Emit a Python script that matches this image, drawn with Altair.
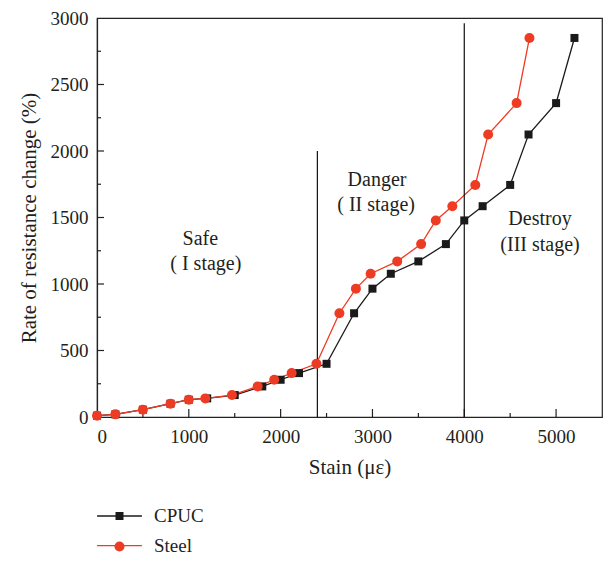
import altair as alt
import pandas as pd

# ---- data ----
series_names = ["CPUC", "Steel"]
series_colors = ["#1a1a1a", "#ee3b24"]
marker_shapes = ["square", "circle"]
marker_sizes = [64, 100]

strain_cpuc = [0, 200, 500, 800, 1000, 1200, 1500, 1800, 2000, 2200, 2500,
               2800, 3000, 3200, 3500, 3800, 4000, 4200, 4500, 4700, 5000, 5200]
rate_cpuc = [10, 20, 55, 100, 130, 140, 165, 230, 280, 330, 400,
             780, 965, 1077, 1170, 1300, 1478, 1585, 1745, 2124, 2360, 2850]

strain_steel = [0, 200, 500, 800, 1000, 1180, 1470, 1750, 1930, 2120, 2390,
                2640, 2820, 2980, 3270, 3530, 3690, 3870, 4120, 4260, 4570, 4710]
rate_steel = [10, 20, 55, 100, 130, 140, 165, 230, 280, 330, 400,
              780, 965, 1077, 1170, 1300, 1478, 1585, 1745, 2124, 2360, 2850]

rule_x = [2400, 4000]
rule_bottom = [0, 0]
rule_top = [2000, 2960]

note_text = ["Safe", "( I stage)", "Danger", "( II stage)", "Destroy", "(III stage)"]
note_x = [1125, 1185, 3050, 3040, 4825, 4825]
note_y = [1292, 1106, 1738, 1552, 1441, 1248]

x_label_values = [0, 1000, 2000, 3000, 4000, 5000]
x_major_ticks = [1000, 2000, 3000, 4000, 5000]
x_minor_ticks = [500, 1500, 2500, 3500, 4500]
y_label_values = [0, 500, 1000, 1500, 2000, 2500, 3000]
y_major_ticks = [500, 1000, 1500, 2000, 2500]
y_minor_ticks = [250, 750, 1250, 1750, 2250, 2750]

rows = []
for name, xs, ys in [("CPUC", strain_cpuc, rate_cpuc), ("Steel", strain_steel, rate_steel)]:
    for xv, yv in zip(xs, ys):
        rows.append({"strain": xv, "rate": yv, "series": name, "marker": name})
df = pd.DataFrame(rows)
rule_df = pd.DataFrame({"x": rule_x, "y0": rule_bottom, "y1": rule_top})
note_df = pd.DataFrame({"t": note_text, "x": note_x, "y": note_y})

W, H = 505, 399
FONT = "Liberation Serif"
TXT = "#231f20"
TICK = "#222222"

x_scale = alt.Scale(domain=[0, 5500], nice=False)
y_scale = alt.Scale(domain=[0, 3000], nice=False)


def x_ticks(values, length):
    return alt.Chart(pd.DataFrame({"v": values})).mark_rule(
        color=TICK, strokeWidth=1.2).encode(
        x=alt.X("v:Q", scale=x_scale, axis=None),
        y=alt.value(H), y2=alt.value(H - length))


def y_ticks(values, length):
    return alt.Chart(pd.DataFrame({"v": values})).mark_rule(
        color=TICK, strokeWidth=1.2).encode(
        y=alt.Y("v:Q", scale=y_scale, axis=None),
        x=alt.value(0), x2=alt.value(length))


rules = alt.Chart(rule_df).mark_rule(color="#111111", strokeWidth=1.2).encode(
    x=alt.X("x:Q", scale=x_scale, axis=None),
    y=alt.Y("y0:Q", scale=y_scale, axis=None),
    y2="y1:Q",
)

lines = alt.Chart(df).mark_line(strokeWidth=1.3).encode(
    x=alt.X("strain:Q", scale=x_scale,
            axis=alt.Axis(orient="bottom", values=x_label_values, ticks=False,
                          format="d", labelPadding=10, title="Stain (με)",
                          titlePadding=10, grid=False)),
    y=alt.Y("rate:Q", scale=y_scale,
            axis=alt.Axis(orient="left", values=y_label_values, ticks=False,
                          format="d", labelPadding=9,
                          title="Rate of resistance change (%)",
                          titlePadding=11, grid=False)),
    color=alt.Color("series:N", scale=alt.Scale(range=series_colors),
                    legend=alt.Legend(orient="none", legendX=7.5, legendY=483,
                                      title=None, padding=0, rowPadding=4.6,
                                      symbolType="M-1.6,0H1.6", symbolSize=784,
                                      symbolStrokeWidth=1.3, symbolOffset=0,
                                      labelFontSize=19, labelFont=FONT,
                                      labelColor=TXT, labelOffset=19.5,
                                      direction="vertical")),
)

marker_legend = alt.Legend(orient="none", legendX=16.5, legendY=492, title=None,
                           padding=0, rowPadding=15.5, labelFontSize=12,
                           labelExpr="''", labelOpacity=0, symbolOffset=0,
                           direction="vertical")

points = alt.Chart(df).mark_point(filled=True, opacity=1, strokeWidth=0).encode(
    x=alt.X("strain:Q", scale=x_scale, axis=None),
    y=alt.Y("rate:Q", scale=y_scale, axis=None),
    fill=alt.Fill("marker:N", scale=alt.Scale(range=series_colors), legend=marker_legend),
    shape=alt.Shape("marker:N", scale=alt.Scale(range=marker_shapes), legend=marker_legend),
    size=alt.Size("marker:N", scale=alt.Scale(range=marker_sizes), legend=marker_legend),
)

notes = alt.Chart(note_df).mark_text(font=FONT, fontSize=20, color=TXT,
                                     baseline="alphabetic", align="center").encode(
    x=alt.X("x:Q", scale=x_scale, axis=None),
    y=alt.Y("y:Q", scale=y_scale, axis=None),
    text="t:N",
)

chart = alt.layer(
    lines,
    x_ticks(x_major_ticks, 8), x_ticks(x_minor_ticks, 4),
    y_ticks(y_major_ticks, 7), y_ticks(y_minor_ticks, 4),
    rules, points, notes,
).resolve_axis(
    x="independent", y="independent"
).properties(
    width=W, height=H,
    padding={"left": 89, "top": 10, "right": 1, "bottom": 138},
    autosize=alt.AutoSizeParams(type="none"),
).configure_view(
    stroke="#222222", strokeWidth=1.2
).configure_axis(
    labelFont=FONT, titleFont=FONT, labelFontSize=19, titleFontSize=21,
    titleFontWeight="normal", labelColor=TXT, titleColor=TXT,
    domainColor="#222222", domainWidth=1.2,
)

chart.save("out.html", embed_options={"renderer": "svg", "actions": False})
